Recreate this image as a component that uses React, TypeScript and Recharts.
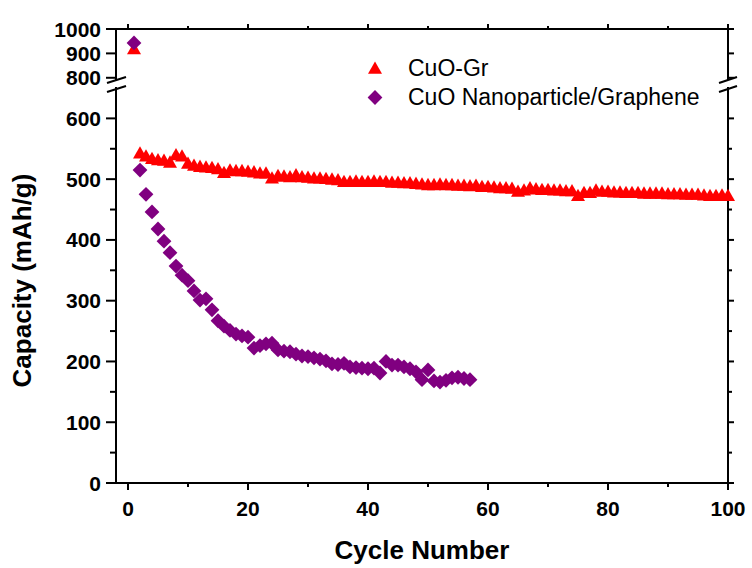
import { Legend, Scatter, ScatterChart, XAxis, YAxis } from 'recharts';

const FONT = 'Arial, "Liberation Sans", sans-serif';
const RED = '#ff0000';
const PURPLE = '#800080';

const SERIES_NAMES = ['CuO-Gr', 'CuO Nanoparticle/Graphene'];

// capacity (mAh/g) per cycle, starting at cycle 1
const CUO_GR = [
	914, 541, 536, 532, 530, 529, 526, 538, 536, 524,
	521, 519, 518, 517, 515, 509, 513, 512, 512, 511,
	510, 508, 508, 500, 504, 503, 502, 505, 502, 501,
	500, 500, 499, 498, 497, 494, 494, 495, 494, 494,
	495, 494, 494, 493, 493, 492, 492, 491, 490, 489,
	489, 490, 489, 489, 488, 488, 487, 488, 486, 486,
	485, 484, 484, 483, 478, 480, 484, 482, 481, 481,
	480, 480, 479, 479, 471, 476, 476, 480, 478, 478,
	477, 477, 476, 476, 476, 475, 475, 475, 475, 474,
	474, 474, 473, 473, 473, 472, 471, 471, 472, 471,
];
const CUO_NP = [
	943, 515, 475, 446, 418, 398, 379, 357, 342, 333,
	316, 301, 303, 285, 267, 258, 251, 245, 242, 240,
	222, 226, 229, 230, 219, 217, 216, 212, 209, 208,
	206, 204, 201, 196, 195, 197, 191, 190, 189, 188,
	189, 181, 200, 194, 194, 191, 188, 183, 170, 186,
	168, 166, 169, 173, 174, 172, 170,
];

const X_TICKS = [0, 10, 20, 30, 40, 50, 60, 70, 80, 90, 100];
const LOW_TICKS = [0, 50, 100, 150, 200, 250, 300, 350, 400, 450, 500, 550, 600];
const HIGH_TICKS = [800, 850, 900, 950, 1000];
const X_DOMAIN = [-2, 100];
const LOW_DOMAIN = [0, 650];
const HIGH_DOMAIN = [795, 1000];
const BREAK = 700;

const toPoints = (values: number[]) => values.map((capacity, i) => ({ cycle: i + 1, capacity }));
const GR_POINTS = toPoints(CUO_GR);
const NP_POINTS = toPoints(CUO_NP);

const triPath = (cx: number, cy: number) =>
	`M${cx},${cy - 8}L${cx + 7},${cy + 4.3}L${cx - 7},${cy + 4.3}Z`;
const diaPath = (cx: number, cy: number) =>
	`M${cx},${cy - 7.4}L${cx + 7.4},${cy}L${cx},${cy + 7.4}L${cx - 7.4},${cy}Z`;

const Triangle = (p: any) => <path d={triPath(p.cx, p.cy)} fill={RED} />;
const Diamond = (p: any) => <path d={diaPath(p.cx, p.cy)} fill={PURPLE} />;

type TickProps = { x?: number; y?: number; payload?: { value: number } };

const tickText = { fontSize: 21, fontWeight: 'bold' as const, fontFamily: FONT, fill: '#000' };

const LeftTick = ({ x = 0, y = 0, payload }: TickProps) => {
	const v = payload?.value ?? 0;
	const major = v % 100 === 0;
	return (
		<g>
			<line x1={x - (major ? 10 : 6)} x2={x} y1={y} y2={y} stroke="#000" strokeWidth={2} />
			{major && (
				<text x={x - 15} y={y} dy="0.36em" textAnchor="end" {...tickText}>
					{v}
				</text>
			)}
		</g>
	);
};

const RightTick = ({ x = 0, y = 0, payload }: TickProps) => {
	const major = (payload?.value ?? 0) % 100 === 0;
	return <line x1={x} x2={x + (major ? 6 : 4)} y1={y} y2={y} stroke="#000" strokeWidth={2} />;
};

const BottomTick = ({ x = 0, y = 0, payload }: TickProps) => {
	const v = payload?.value ?? 0;
	const major = v % 20 === 0;
	return (
		<g>
			<line x1={x} x2={x} y1={y} y2={y + (major ? 7 : 4)} stroke="#000" strokeWidth={2} />
			{major && (
				<text x={x} y={y + 33} textAnchor="middle" {...tickText}>
					{v}
				</text>
			)}
		</g>
	);
};

const TopTick = ({ x = 0, y = 0, payload }: TickProps) => {
	const major = (payload?.value ?? 0) % 20 === 0;
	return <line x1={x} x2={x} y1={y - (major ? 5 : 3)} y2={y} stroke="#000" strokeWidth={2} />;
};

const YTitle = (props: any) => {
	const vb = props.viewBox ?? {};
	const cy = vb.y + vb.height / 2 - 5;
	return (
		<text
			x={31}
			y={cy}
			transform={`rotate(-90, 31, ${cy})`}
			textAnchor="middle"
			fontSize={26}
			fontWeight="bold"
			fontFamily={FONT}
		>
			Capacity (mAh/g)
		</text>
	);
};

const XTitle = (props: any) => {
	const vb = props.viewBox ?? {};
	return (
		<text x={vb.x + vb.width / 2} y={vb.y + 76} textAnchor="middle" fontSize={26} fontWeight="bold" fontFamily={FONT}>
			Cycle Number
		</text>
	);
};

// legend rows follow the series order, not the alphabetical order recharts hands over
const LegendBox = ({ payload }: any) => {
	const items = [...(payload ?? [])].sort(
		(a: any, b: any) => SERIES_NAMES.indexOf(a.value) - SERIES_NAMES.indexOf(b.value),
	);
	return (
		<div style={{ fontFamily: FONT, fontSize: 23, color: '#000' }}>
			{items.map((entry: any) => (
				<div key={entry.value} style={{ display: 'flex', alignItems: 'center', height: 29 }}>
					<svg width={43} height={29}>
						<path d={entry.type === 'triangle' ? triPath(10, 15.5) : diaPath(10, 14.5)} fill={entry.color} />
					</svg>
					<span style={{ lineHeight: '29px' }}>{entry.value}</span>
				</div>
			))}
		</div>
	);
};

const axisLine = { stroke: '#000', strokeWidth: 2, strokeLinecap: 'square' as const };

export default function App() {
	const high = (pts: { capacity: number }[]) => pts.filter((p) => p.capacity > BREAK);
	const low = (pts: { capacity: number }[]) => pts.filter((p) => p.capacity < BREAK);

	return (
		<div style={{ position: 'absolute', left: 0, top: 0, width: 752, height: 568, background: '#fff' }}>
			{/* upper segment of the broken axis: 795 - 1000 */}
			<div style={{ position: 'absolute', left: 0, top: 0 }}>
				<ScatterChart width={752} height={568} margin={{ top: 19, right: 0, bottom: 489, left: 0 }}>
					<XAxis
						xAxisId="top"
						orientation="top"
						type="number"
						dataKey="cycle"
						domain={X_DOMAIN}
						ticks={X_TICKS}
						height={10}
						tickSize={0}
						tickMargin={0}
						tickLine={false}
						tick={<TopTick />}
						axisLine={axisLine}
					/>
					<YAxis
						yAxisId="left"
						type="number"
						dataKey="capacity"
						domain={HIGH_DOMAIN}
						ticks={HIGH_TICKS}
						width={116}
						tickSize={0}
						tickMargin={0}
						tickLine={false}
						tick={<LeftTick />}
						axisLine={axisLine}
					/>
					<YAxis
						yAxisId="right"
						orientation="right"
						type="number"
						domain={HIGH_DOMAIN}
						allowDataOverflow
						ticks={HIGH_TICKS}
						width={24}
						tickSize={0}
						tickMargin={0}
						tickLine={false}
						tick={<RightTick />}
						axisLine={axisLine}
					/>
					<Scatter
						xAxisId="top"
						yAxisId="left"
						data={high(GR_POINTS)}
						fill={RED}
						shape={Triangle}
						isAnimationActive={false}
					/>
					<Scatter
						xAxisId="top"
						yAxisId="left"
						data={high(NP_POINTS)}
						fill={PURPLE}
						shape={Diamond}
						isAnimationActive={false}
					/>
				</ScatterChart>
			</div>
			{/* lower segment: 0 - 650 */}
			<div style={{ position: 'absolute', left: 0, top: 0 }}>
				<ScatterChart width={752} height={568} margin={{ top: 88, right: 0, bottom: 0, left: 0 }}>
					<XAxis
						xAxisId="bottom"
						type="number"
						dataKey="cycle"
						domain={X_DOMAIN}
						ticks={X_TICKS}
						height={85}
						tickSize={0}
						tickMargin={0}
						tickLine={false}
						tick={<BottomTick />}
						axisLine={axisLine}
						label={XTitle}
					/>
					<YAxis
						yAxisId="left"
						type="number"
						dataKey="capacity"
						domain={LOW_DOMAIN}
						ticks={LOW_TICKS}
						width={116}
						tickSize={0}
						tickMargin={0}
						tickLine={false}
						tick={<LeftTick />}
						axisLine={axisLine}
						label={YTitle}
					/>
					<YAxis
						yAxisId="right"
						orientation="right"
						type="number"
						domain={LOW_DOMAIN}
						allowDataOverflow
						ticks={LOW_TICKS}
						width={24}
						tickSize={0}
						tickMargin={0}
						tickLine={false}
						tick={<RightTick />}
						axisLine={axisLine}
					/>
					<Legend
						layout="vertical"
						align="center"
						verticalAlign="middle"
						content={LegendBox}
						wrapperStyle={{ left: 365, top: 54, width: 'auto', height: 'auto' }}
					/>
					<Scatter
						name={SERIES_NAMES[0]}
						legendType="triangle"
						xAxisId="bottom"
						yAxisId="left"
						data={low(GR_POINTS)}
						fill={RED}
						shape={Triangle}
						isAnimationActive={false}
					/>
					<Scatter
						name={SERIES_NAMES[1]}
						legendType="diamond"
						xAxisId="bottom"
						yAxisId="left"
						data={low(NP_POINTS)}
						fill={PURPLE}
						shape={Diamond}
						isAnimationActive={false}
					/>
				</ScatterChart>
			</div>
			{/* axis break marks */}
			<svg width={752} height={568} style={{ position: 'absolute', left: 0, top: 0, pointerEvents: 'none' }}>
				<g stroke="#000" strokeWidth={2}>
					<line x1={107} y1={83} x2={126} y2={77} />
					<line x1={107} y1={92} x2={126} y2={86} />
					<line x1={719} y1={83} x2={737} y2={77} />
					<line x1={719} y1={92} x2={737} y2={86} />
				</g>
			</svg>
		</div>
	);
}
